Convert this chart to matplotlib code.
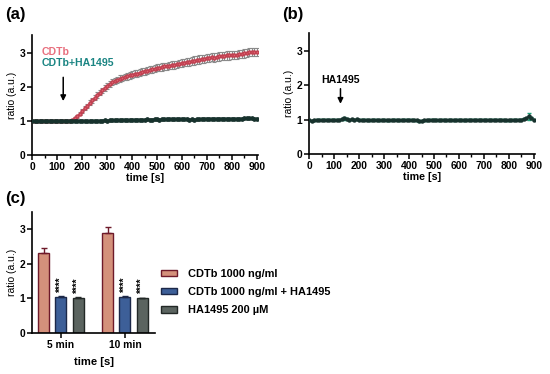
import matplotlib
matplotlib.use("Agg")
import matplotlib.pyplot as plt
import numpy as np

plt.rcParams['font.family'] = ['Liberation Sans', 'DejaVu Sans']

# ---------------- data ----------------
time_s = list(range(0, 901, 10))

cdtb_ratio = [1.00, 1.00, 0.99, 1.00, 1.00, 1.01, 1.00, 1.00, 1.00, 1.01,
              1.00, 1.01, 1.00, 1.01, 1.01, 1.01, 1.03, 1.08, 1.14, 1.21,
              1.29, 1.37, 1.45, 1.53, 1.61, 1.68, 1.76, 1.83, 1.90, 1.97,
              2.03, 2.08, 2.13, 2.17, 2.20, 2.24, 2.26, 2.29, 2.31, 2.34,
              2.36, 2.38, 2.39, 2.42, 2.44, 2.46, 2.47, 2.50, 2.52, 2.53,
              2.56, 2.56, 2.58, 2.60, 2.60, 2.62, 2.64, 2.64, 2.66, 2.68,
              2.70, 2.71, 2.73, 2.73, 2.76, 2.77, 2.78, 2.80, 2.82, 2.82,
              2.85, 2.85, 2.87, 2.86, 2.88, 2.89, 2.90, 2.90, 2.92, 2.92,
              2.93, 2.94, 2.94, 2.96, 2.97, 2.98, 3.00, 3.01, 3.02, 3.01,
              3.02]
cdtb_err = [0.02, 0.02, 0.02, 0.02, 0.02, 0.02, 0.02, 0.02, 0.02, 0.02,
            0.02, 0.02, 0.02, 0.02, 0.02, 0.02, 0.03, 0.04, 0.04, 0.05,
            0.05, 0.06, 0.06, 0.07, 0.07, 0.07, 0.08, 0.08, 0.08, 0.08,
            0.09, 0.09, 0.09, 0.09, 0.09, 0.10, 0.10, 0.10, 0.10, 0.10,
            0.10, 0.10, 0.10, 0.10, 0.10, 0.10, 0.10, 0.10, 0.10, 0.10,
            0.10, 0.11, 0.11, 0.11, 0.11, 0.11, 0.11, 0.11, 0.11, 0.11,
            0.11, 0.11, 0.11, 0.11, 0.12, 0.12, 0.12, 0.12, 0.12, 0.12,
            0.12, 0.12, 0.12, 0.12, 0.12, 0.12, 0.12, 0.12, 0.12, 0.12,
            0.12, 0.12, 0.12, 0.12, 0.12, 0.12, 0.12, 0.12, 0.12, 0.12,
            0.12]

cdtb_ha_ratio = [1.00, 1.00, 0.99, 1.00, 1.00, 1.00, 1.01, 1.00, 1.00, 1.01,
                 1.00, 1.01, 1.01, 1.01, 1.00, 1.01, 1.01, 1.01, 1.00, 1.00,
                 1.00, 1.00, 0.99, 1.00, 1.00, 1.01, 1.00, 1.00, 1.01, 1.02,
                 1.01, 1.02, 1.02, 1.02, 1.03, 1.02, 1.03, 1.03, 1.02, 1.03,
                 1.04, 1.03, 1.04, 1.04, 1.03, 1.04, 1.05, 1.04, 1.04, 1.05,
                 1.05, 1.04, 1.05, 1.05, 1.05, 1.06, 1.05, 1.05, 1.06, 1.05,
                 1.06, 1.05, 1.06, 1.04, 1.05, 1.04, 1.05, 1.05, 1.06, 1.06,
                 1.07, 1.06, 1.06, 1.07, 1.06, 1.07, 1.07, 1.07, 1.06, 1.06,
                 1.07, 1.07, 1.06, 1.07, 1.07, 1.08, 1.08, 1.08, 1.08, 1.07,
                 1.07]
cdtb_ha_err = [0.015] * len(cdtb_ha_ratio)

ha_ratio = [0.98, 0.97, 0.98, 0.99, 1.00, 0.99, 1.00, 1.00, 0.99, 0.99,
            1.00, 0.99, 1.00, 1.01, 1.04, 1.03, 1.00, 1.01, 1.00, 1.01,
            1.00, 0.99, 0.99, 0.99, 0.98, 0.99, 0.99, 0.99, 0.98, 0.99,
            0.99, 0.98, 0.98, 0.99, 0.99, 0.99, 0.98, 0.99, 0.99, 0.99,
            0.99, 0.99, 0.98, 0.98, 0.96, 0.97, 0.98, 0.98, 0.99, 0.99,
            0.99, 0.99, 0.98, 0.99, 0.99, 0.98, 0.99, 0.99, 0.98, 0.99,
            0.99, 0.99, 0.98, 0.99, 1.00, 0.99, 0.99, 0.99, 1.00, 1.00,
            0.99, 1.00, 0.99, 0.99, 0.99, 0.99, 1.00, 1.00, 0.99, 0.98,
            0.98, 0.99, 0.99, 1.00, 1.00, 1.00, 1.02, 1.04, 1.10, 1.05,
            1.00]
ha_err = [0.015] * 14 + [0.04, 0.03] + [0.015] * 72 + [0.10, 0.04, 0.015]

bar_groups = ["5 min", "10 min"]
bar_labels = ["CDTb 1000 ng/ml", "CDTb 1000 ng/ml + HA1495", "HA1495 200 \u00b5M"]
bar_means = [[2.32, 2.90], [1.04, 1.03], [1.00, 1.00]]
bar_errs = [[0.13, 0.17], [0.02, 0.02], [0.03, 0.02]]
bar_sig = [["", ""], ["****", "****"], ["****", "****"]]

# ---------------- styling ----------------
W, H = 550, 374
fig = plt.figure(figsize=(W/100, H/100), dpi=100)

FS = 7.4
def style(ax):
    for s in ["top", "right"]:
        ax.spines[s].set_visible(False)
    for s in ["left", "bottom"]:
        ax.spines[s].set_linewidth(1.2)
    ax.tick_params(width=1.1, length=3.5, labelsize=FS, pad=1.5)
    for lab in ax.get_xticklabels() + ax.get_yticklabels():
        lab.set_fontweight("bold")

def fx(px): return px / W
def fy(py): return 1 - py / H

# panel (a)
axa = fig.add_axes([fx(32.3), fy(155), fx(225.7), (155-35)/H])
axa.errorbar(time_s, cdtb_ratio, yerr=cdtb_err, fmt='o', ms=2.2, color='#e06070',
             mec='#c04050', ecolor='#8a8a8a', elinewidth=0.8, capsize=1.5, capthick=0.8,
             linestyle='-', lw=1.0, zorder=2)
axa.errorbar(time_s, cdtb_ha_ratio, yerr=cdtb_ha_err, fmt='o', ms=2.4, color='#17322d',
             ecolor='#17322d', elinewidth=0.8, capsize=1.2, linestyle='-', lw=1.0, zorder=3)
axa.set_xlim(0, 905)
axa.set_ylim(0, 3.52)
axa.set_xticks(range(0, 901, 100))
axa.set_xticks(range(50, 901, 100), minor=True)
axa.tick_params(which='minor', length=2, width=1.0)
axa.set_yticks([0, 1, 2, 3])
axa.set_xlabel("time [s]", fontsize=7.7, fontweight='bold', labelpad=1)
axa.set_ylabel("ratio (a.u.)", fontsize=7.5, labelpad=2)
style(axa)
axa.text(37, 3.03, "CDTb", color='#e8707e', fontsize=7.6, fontweight='bold', va='center')
axa.text(37, 2.69, "CDTb+HA1495", color='#1b8583', fontsize=7.6, fontweight='bold', va='center')
axa.annotate("", xy=(124, 1.5), xytext=(124, 2.36),
             arrowprops=dict(arrowstyle='-|>', color='black', lw=1.1, mutation_scale=8))

# panel (b)
axb = fig.add_axes([fx(309.3), fy(154), fx(225.7), (154-33)/H])
axb.errorbar(time_s, ha_ratio, yerr=ha_err, fmt='o', ms=2.2, color='#17322d',
             ecolor='#1fa07a', elinewidth=0.8, capsize=1.5, linestyle='-', lw=1.0, zorder=3)
axb.set_xlim(0, 905)
axb.set_ylim(0, 3.52)
axb.set_xticks(range(0, 901, 100))
axb.set_xticks(range(50, 901, 100), minor=True)
axb.tick_params(which='minor', length=2, width=1.0)
axb.set_yticks([0, 1, 2, 3])
axb.set_xlabel("time [s]", fontsize=7.7, fontweight='bold', labelpad=1)
axb.set_ylabel("ratio (a.u.)", fontsize=7.5, labelpad=2)
style(axb)
axb.text(126, 2.16, "HA1495", fontsize=7.6, fontweight='bold', ha='center', va='center')
axb.annotate("", xy=(125, 1.38), xytext=(125, 1.98),
             arrowprops=dict(arrowstyle='-|>', color='black', lw=1.1, mutation_scale=8))

# panel (c)
axc = fig.add_axes([fx(32), fy(332.7), fx(123), (332.7-212)/H])
face = ['#d4917b', '#3d5f98', '#5b6460']
edge = ['#6e1a2a', '#1c2848', '#222826']
x = np.arange(len(bar_groups))
bw = 0.17
offs = [-0.27, 0.0, 0.27]
for i in range(3):
    axc.bar(x + offs[i], bar_means[i], width=bw, color=face[i], edgecolor=edge[i],
            linewidth=1.0, label=bar_labels[i], zorder=2)
    axc.errorbar(x + offs[i], bar_means[i], yerr=[[0, 0], bar_errs[i]], fmt='none',
                 ecolor=edge[i], elinewidth=1.0, capsize=2.5, capthick=1.0, zorder=3)
    for j in range(2):
        if bar_sig[i][j]:
            axc.text(x[j] + offs[i], bar_means[i][j] + bar_errs[i][j] + 0.12, bar_sig[i][j],
                     rotation=90, ha='center', va='bottom', fontsize=7.0, fontweight='bold')
axc.set_xlim(-0.45, 1.47)
axc.set_ylim(0, 3.5)
axc.set_xticks(x)
axc.set_xticklabels(bar_groups)
axc.set_yticks([0, 1, 2, 3])
axc.set_xlabel("time [s]", fontsize=8.1, fontweight='bold', labelpad=5)
axc.set_ylabel("ratio (a.u.)", fontsize=7.5, labelpad=2)
style(axc)
axc.legend(loc='center left', bbox_to_anchor=((157-32)/123, 0.337),
           frameon=False, prop=dict(size=7.9, weight='bold'), handlelength=1.45,
           handleheight=0.55, labelspacing=0.75, handletextpad=1.0, borderaxespad=0)

fig.text(fx(5), fy(15), "(a)", fontsize=12, fontweight='bold', va='center')
fig.text(fx(281.7), fy(15), "(b)", fontsize=12, fontweight='bold', va='center')
fig.text(fx(5), fy(198), "(c)", fontsize=12, fontweight='bold', va='center')

fig.savefig("out.png", dpi=100)
